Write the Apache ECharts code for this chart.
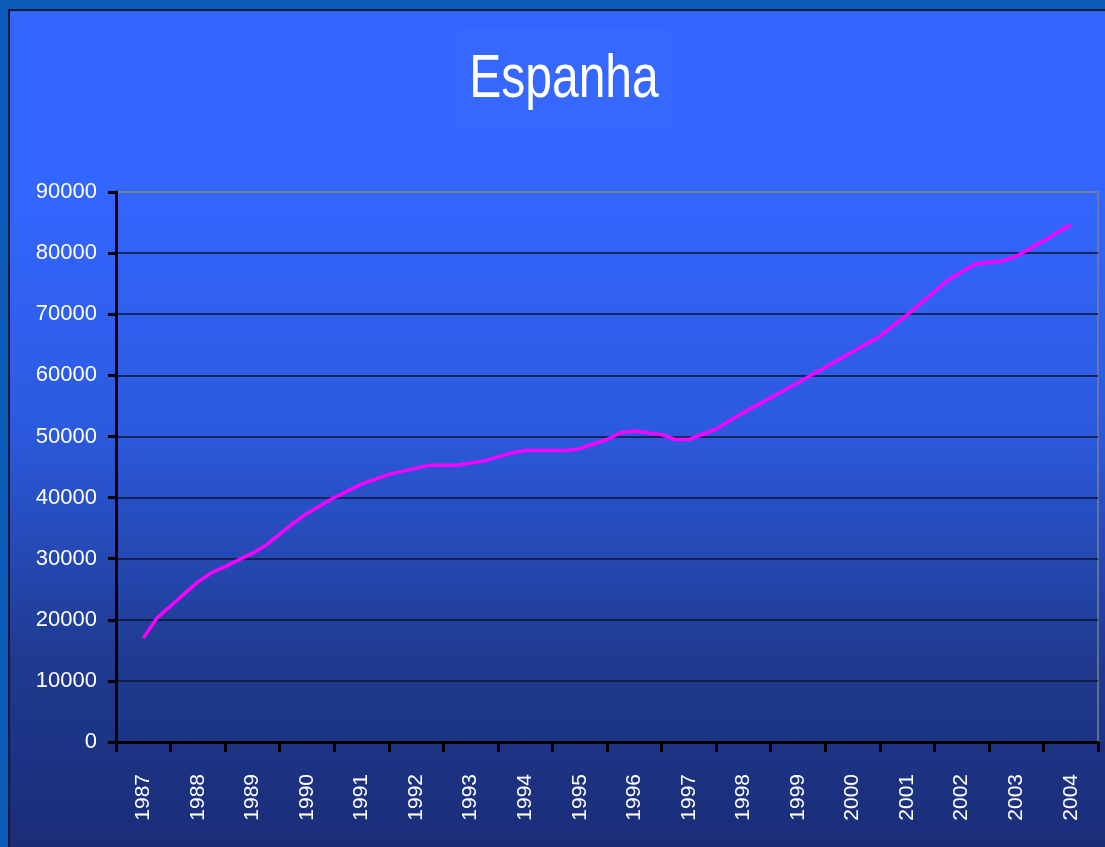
<!DOCTYPE html>
<html>
<head>
<meta charset="utf-8">
<style>
  html, body { margin: 0; padding: 0; background: #0a5cb8; }
  #app { width: 1105px; height: 847px; }
</style>
<script src="https://cdn.jsdelivr.net/npm/echarts@6/dist/echarts.min.js"></script>
</head>
<body>
<div id="app"></div>
<script>
const years = ['1987', '1988', '1989', '1990', '1991', '1992', '1993', '1994', '1995',
  '1996', '1997', '1998', '1999', '2000', '2001', '2002', '2003', '2004']

// points of the line (fraction of year, value)
const periods = [1987, 1987.25, 1988, 1988.25, 1988.5, 1989, 1989.25, 1989.75, 1990, 1990.5,
  1991, 1991.5, 1992.25, 1992.75, 1993.25, 1993.75, 1994, 1994.75, 1995, 1995.5,
  1995.75, 1996, 1996.5, 1996.75, 1997, 1997.5, 1997.75, 1998, 1999, 2000.5,
  2001, 2001.75, 2002.25, 2002.75, 2003, 2003.5, 2004]
const values = [17000, 20300, 26200, 27700, 28700, 30900, 32200, 35800, 37400, 40000,
  42200, 43800, 45300, 45300, 46000, 47300, 47700, 47700, 48000, 49500,
  50600, 50900, 50300, 49500, 49500, 51200, 52600, 53900, 58800, 66400,
  69900, 75600, 78200, 78700, 79500, 82000, 84700]

const yTicks = [0, 10000, 20000, 30000, 40000, 50000, 60000, 70000, 80000, 90000]

const app = document.getElementById('app')
const chart = echarts.init(app)

const gridColors = yTicks.map((v, i) => i === yTicks.length - 1 ? '#7a7f90' : '#0c1430')

chart.setOption({
  animation: false,
  backgroundColor: '#0a5cb8',
  graphic: [
    {
      type: 'rect',
      z: -10,
      silent: true,
      shape: { x: 9, y: 10, width: 1100, height: 840 },
      style: {
        fill: {
          type: 'linear', x: 0, y: 0, x2: 0, y2: 1,
          colorStops: [
            { offset: 0, color: '#3366ff' },
            { offset: 0.22, color: '#3366ff' },
            { offset: 0.5, color: '#2c5ade' },
            { offset: 0.77, color: '#1f3a90' },
            { offset: 1, color: '#1a2d78' }
          ]
        },
        stroke: '#0d1838',
        lineWidth: 2
      }
    },
    {
      type: 'rect',
      z: -9,
      silent: true,
      shape: { x: 458, y: 28, width: 212, height: 100 },
      style: { fill: 'rgba(60,110,255,0.35)' }
    },
    {
      type: 'text',
      x: 564,
      y: 80,
      scaleY: 1.28,
      style: {
        text: 'Espanha',
        fill: '#ffffff',
        fontSize: 48,
        fontFamily: 'Liberation Sans',
        align: 'center',
        verticalAlign: 'middle'
      }
    }
  ],
  grid: {
    left: 116,
    right: 7,
    top: 192,
    bottom: 105,
    show: true,
    backgroundColor: 'transparent',
    borderColor: '#7a7f90',
    borderWidth: 1.5
  },
  xAxis: [
    {
      type: 'category',
      data: years,
      boundaryGap: true,
      axisLine: { lineStyle: { color: '#000', width: 3 } },
      axisTick: { show: true, length: 10, lineStyle: { color: '#000', width: 3 } },
      axisLabel: {
        rotate: 90,
        margin: 32,
        color: '#fff',
        fontSize: 21,
        fontFamily: 'Liberation Sans',
        interval: 0
      },
      splitLine: { show: false }
    },
    {
      type: 'value',
      min: 1986.5,
      max: 2004.5,
      show: false
    }
  ],
  yAxis: {
    type: 'value',
    min: 0,
    max: 90000,
    interval: 10000,
    axisLine: { show: true, lineStyle: { color: '#000', width: 3 } },
    axisTick: { show: true, length: 8, lineStyle: { color: '#000', width: 3 } },
    axisLabel: {
      margin: 19,
      color: '#fff',
      fontSize: 22,
      fontFamily: 'Liberation Sans',
      formatter: v => String(v)
    },
    splitLine: { show: true, lineStyle: { color: gridColors, width: 1.5 } }
  },
  series: [
    {
      type: 'line',
      xAxisIndex: 1,
      data: periods.map((p, i) => [p, values[i]]),
      showSymbol: false,
      symbol: 'none',
      lineStyle: { color: '#ff00ff', width: 3.5 },
      z: 5
    }
  ]
})
</script>
</body>
</html>
